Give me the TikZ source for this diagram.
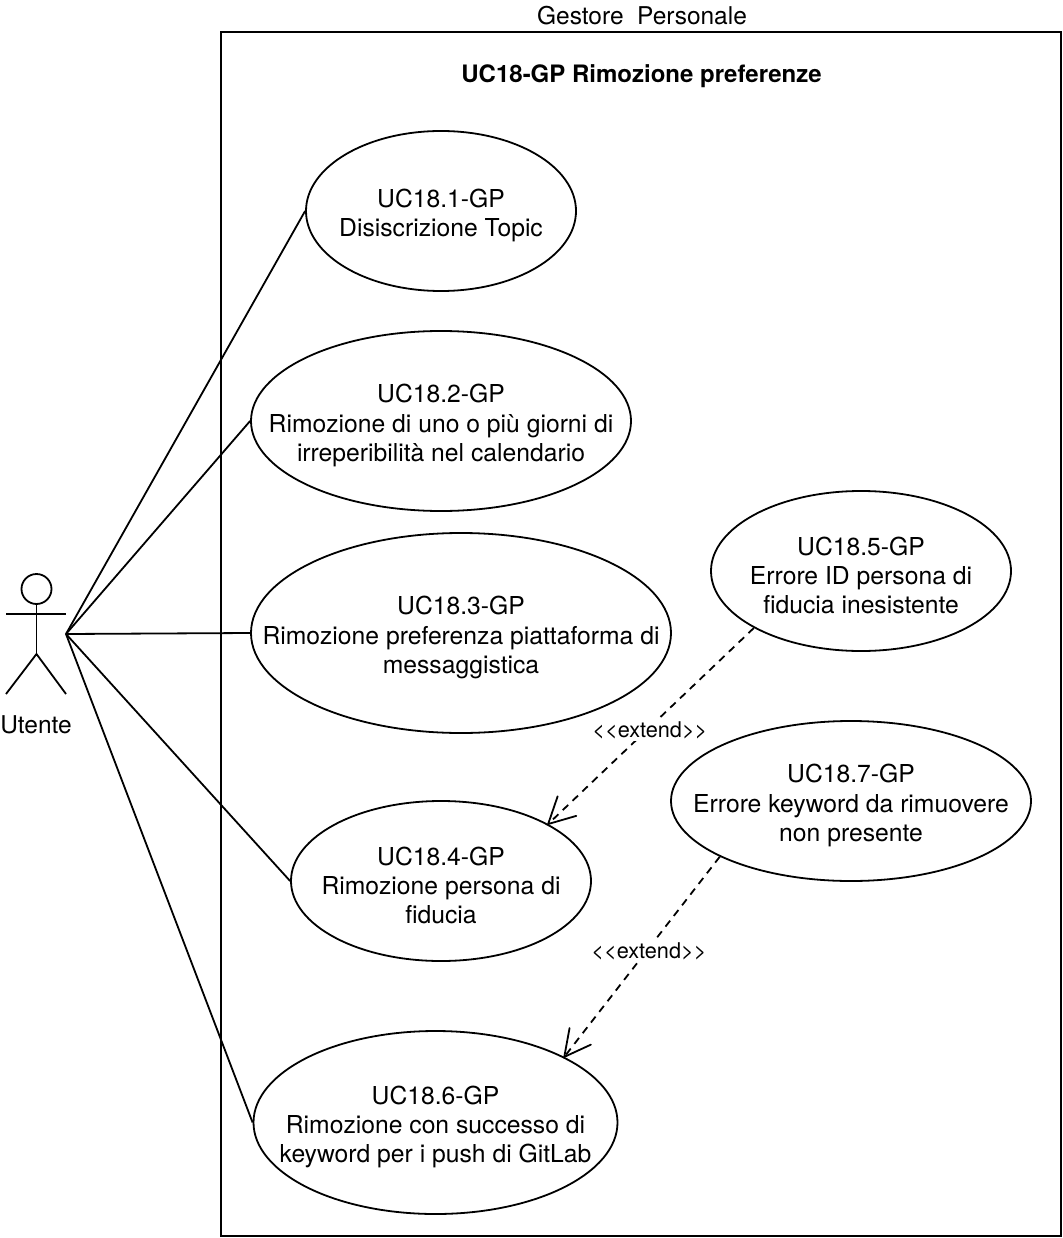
\documentclass[tikz,border=0pt]{standalone}
\usepackage{fontspec}
\setmainfont{TeX Gyre Heros}
\usetikzlibrary{shapes.geometric,arrows.meta}
\pgfdeclarearrow{
  name=OpenV,
  setup code={\pgfarrowssettipend{0pt}\pgfarrowssetlineend{-1pt}},
  drawing code={\pgfsetdash{}{0pt}\pgfsetroundcap
    \pgfpathmoveto{\pgfpoint{-26pt}{13.5pt}}
    \pgfpathlineto{\pgfpointorigin}
    \pgfpathlineto{\pgfpoint{-26pt}{-13.5pt}}
    \pgfusepathqstroke}
}
\begin{document}
\begin{tikzpicture}[x=1pt, y=-1pt, line width=1.8pt,
  usecase/.style={draw, ellipse, inner sep=0pt},
  uctext/.style={inner sep=0pt, align=center, yshift=-4.5pt, font=\fontsize{24.7}{29.2}\selectfont},
  extendlabel/.style={fill=white, inner xsep=1pt, inner ysep=2pt, xshift=3pt, font=\fontsize{21.7}{24}\selectfont},
  plaintext/.style={inner sep=0pt, font=\fontsize{24.5}{29.5}\selectfont},
  extendline/.style={dash pattern=on 7.5pt off 6pt, -OpenV}]
\useasboundingbox (0,0) rectangle (1062,1238);
\draw (221,32) rectangle (1061,1236);
\node[plaintext] (system) at (642,16) {Gestore\ \ Personale};
\node[plaintext, font=\fontsize{24}{29.5}\selectfont\bfseries] (title) at (641.5,76) {UC18-GP Rimozione preferenze};
\node[usecase, minimum width=270pt, minimum height=160pt, label={[uctext]center:{UC18.1-GP\\Disiscrizione Topic}}] (uc1) at (441,211) {};
\node[usecase, minimum width=380pt, minimum height=180pt, label={[uctext]center:{UC18.2-GP\\Rimozione di uno o più giorni di\\irreperibilità nel calendario}}] (uc2) at (441,421) {};
\node[usecase, minimum width=420pt, minimum height=200pt, label={[uctext]center:{UC18.3-GP\\Rimozione preferenza piattaforma di\\messaggistica}}] (uc3) at (461,633) {};
\node[usecase, minimum width=300pt, minimum height=160pt, label={[uctext]center:{UC18.4-GP\\Rimozione persona di\\fiducia}}] (uc4) at (441,881) {};
\node[usecase, minimum width=300pt, minimum height=160pt, label={[uctext]center:{UC18.5-GP\\Errore ID persona di\\fiducia inesistente}}] (uc5) at (861,571) {};
\node[usecase, minimum width=364pt, minimum height=183pt, label={[uctext]center:{UC18.6-GP\\Rimozione con successo di\\keyword per i push di GitLab}}] (uc6) at (435.5,1122.5) {};
\node[usecase, minimum width=360pt, minimum height=160pt, label={[uctext]center:{UC18.7-GP\\Errore keyword da rimuovere\\non presente}}] (uc7) at (851,801) {};
\node[draw, circle, inner sep=0pt, minimum size=30pt] (head) at (36.5,589) {};
\coordinate (hip) at (36.5,654);
\coordinate (handl) at (6,614);
\coordinate (handr) at (66,614);
\coordinate (footl) at (6,694);
\coordinate (footr) at (66,694);
\coordinate (actor) at (66,634);
\draw (head.south)--(hip);
\draw (handl)--(handr);
\draw (footl)--(hip)--(footr);
\node[plaintext] (utente) at (36,725) {Utente};
\foreach \uc in {uc1,uc2,uc3,uc4,uc6}
  \draw (actor)--(\uc.west);
\draw[extendline] (uc5.208)--node[pos=.52, extendlabel]{{<}{<}extend{>}{>}}(uc4.28.5);
\draw[extendline] (uc7.203.5)--node[pos=.475, extendlabel]{{<}{<}extend{>}{>}}(uc6.27.3);
\end{tikzpicture}
\end{document}
